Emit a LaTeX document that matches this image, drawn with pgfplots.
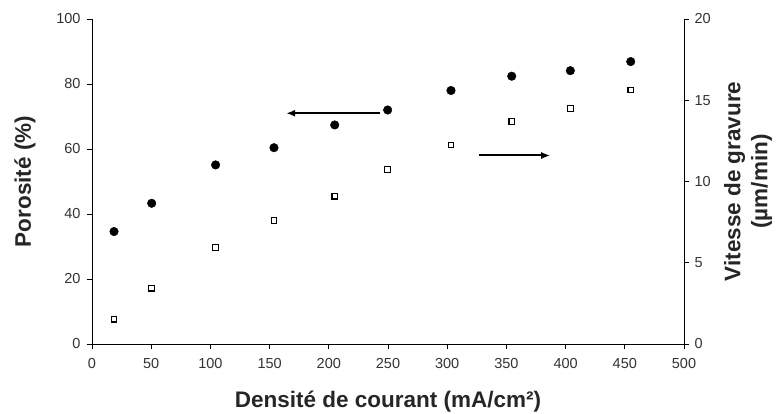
\documentclass[border=0pt]{standalone}
\usepackage{fontspec}
\setmainfont{Liberation Sans}
\usepackage{pgfplots}
\usetikzlibrary{arrows.meta}
\pgfplotsset{compat=1.18}
\begin{document}
\begin{tikzpicture}[x=1pt,y=1pt]
\path[use as bounding box] (-92,-70) rectangle (687,344);
\begin{axis}[
  scale only axis, width=592pt, height=325pt,
  xmin=0, xmax=500, ymin=0, ymax=100,
  xtick={0,50,...,500}, ytick={0,20,...,100},
  axis y line*=left, axis x line*=bottom,
  tick align=outside, major tick length=5pt,
  tick style={black, line width=0.9pt},
  axis line style={line width=0.9pt, -},
  ticklabel style={font=\fontsize{14.5}{15}\selectfont, text=black!80},
  xticklabel style={yshift=-6pt},
  yticklabel style={xshift=-3pt},
  /pgf/number format/assume math mode=true,
  xlabel={\textbf{Densité de courant (mA/cm²)}},
  ylabel={\textbf{Porosité (\%)}},
  xlabel style={font=\fontsize{22.5}{24}\selectfont, text=black!85, at={(axis description cs:0.5,0)}, anchor=center, yshift=-58pt},
  ylabel style={font=\fontsize{22.5}{24}\selectfont, text=black!85, at={(axis description cs:0,0.5)}, anchor=center, yshift=67pt},
  clip=false,
]
\addplot[only marks, mark=*, mark size=4.3pt, black] coordinates {
 (18.6,34.6) (50.4,43.3) (104.4,55.1) (153.7,60.4) (205,67.4)
 (249.7,72.0) (303.2,78.0) (354.5,82.4) (404,84.1) (455,86.9)
};
\draw[-{Latex[length=9pt,width=7pt]}, line width=2pt] (axis cs:243,71) -- (axis cs:164,71);
\draw[-{Latex[length=9pt,width=7pt]}, line width=2pt] (axis cs:327,58) -- (axis cs:387,58);
\end{axis}
\begin{axis}[
  scale only axis, width=592pt, height=325pt,
  xmin=0, xmax=500, ymin=0, ymax=20,
  axis x line=none, axis y line*=right,
  ytick={0,5,...,20},
  tick align=outside, major tick length=5pt,
  tick style={black, line width=0.9pt},
  axis line style={line width=0.9pt, -},
  ticklabel style={font=\fontsize{14.5}{15}\selectfont, text=black!80},
  yticklabel style={xshift=2pt},
  /pgf/number format/assume math mode=true,
  ylabel={\textbf{Vitesse de gravure}\\\textbf{(µm/min)}},
  ylabel style={font=\fontsize{22.5}{27}\selectfont, text=black!85, align=center, at={(axis description cs:1,0.5)}, anchor=center, yshift=-64pt},
]
\addplot[only marks, mark=square*, mark size=2.8pt, mark options={fill=white, draw=black, line width=1.2pt}] coordinates {
 (18.6,1.52) (50.4,3.43) (104.4,5.95) (153.7,7.61) (205,9.09)
 (249.7,10.73) (303.2,12.25) (354.5,13.68) (404,14.5) (455,15.63)
};
\end{axis}
\end{tikzpicture}
\end{document}
